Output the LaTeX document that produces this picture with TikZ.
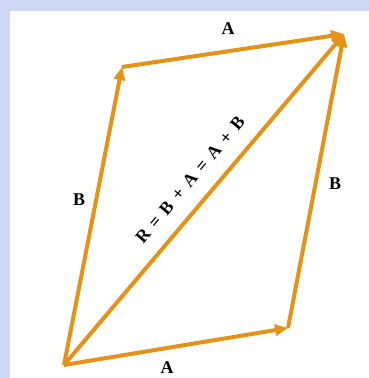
\documentclass[tikz,border=0pt]{standalone}
\usepackage{fontspec}
\setmainfont{Liberation Serif}
\usetikzlibrary{arrows.meta}
\definecolor{vecnaranja}{RGB}{228,146,24}
\definecolor{fondoazul}{RGB}{204,216,244}
\begin{document}
\begin{tikzpicture}[x=1bp,y=-1bp,
  vector/.style={draw=vecnaranja,line width=4bp,-{Triangle[length=13bp,width=11bp]}},
  etiqueta/.style={font=\bfseries\fontsize{18}{20}\selectfont}]
  % Regla del paralelogramo: R = A + B = B + A
  \def\esp{\hspace{7pt}}
  \fill[fondoazul] (0,0) rectangle (369,378);
  \fill[white] (10,11) rectangle (369,378);
  \coordinate (O) at (64,365);
  \coordinate (PA) at (288,328);
  \coordinate (PB) at (122,67);
  \coordinate (R) at (344,34);
  \draw[vector] (O) -- (PA);
  \draw[vector] (O) -- (PB);
  \draw[vector] (PB) -- (R);
  \draw[vector] (PA) -- (R);
  \draw[vector] (O) -- (R);
  \node[etiqueta] (aSup) at (228,29) {A};
  \node[etiqueta] (aInf) at (167,368) {A};
  \node[etiqueta] (bIzq) at (79,200) {B};
  \node[etiqueta] (bDer) at (335,184) {B};
  \node[etiqueta,rotate=50] (suma) at (190,180)
    {R\esp=\esp B\esp+\esp A\esp=\esp A\esp+\esp B};
\end{tikzpicture}
\end{document}
